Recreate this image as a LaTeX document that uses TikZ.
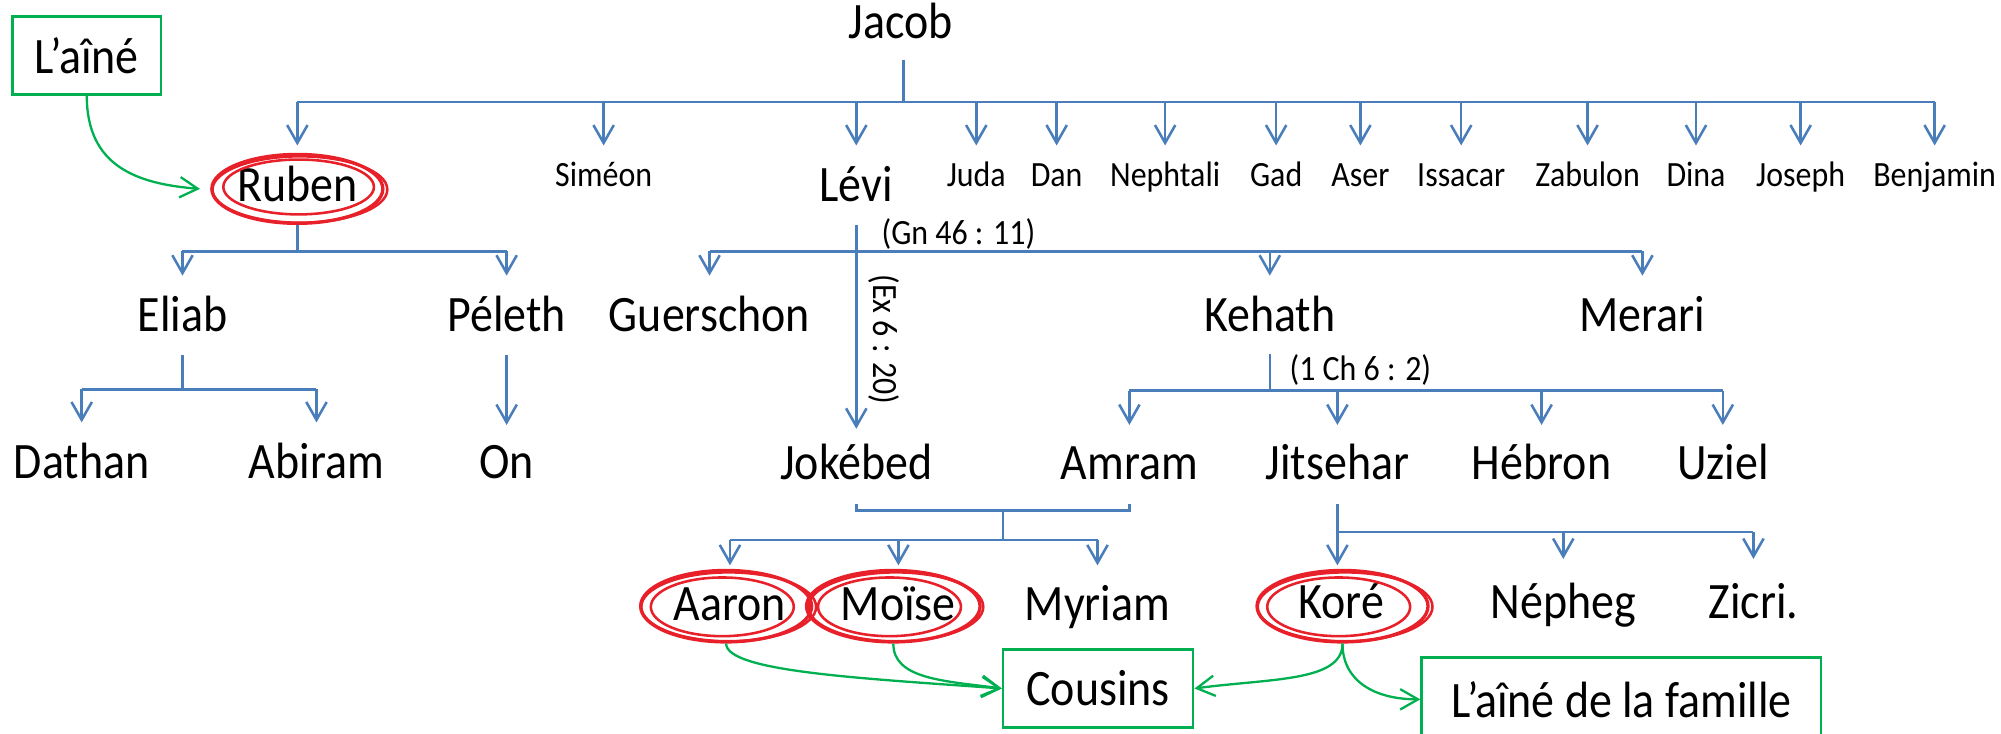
\documentclass[tikz,border=0pt]{standalone}
\usepackage{fontspec}
\setmainfont{Carlito}[FakeStretch=0.9]
\usetikzlibrary{arrows.meta,shapes.geometric,calc}
\definecolor{lineblue}{HTML}{4A7EBB}
\definecolor{ringred}{HTML}{E8202A}
\definecolor{boxgreen}{HTML}{00B050}
\begin{document}
\begin{tikzpicture}[x=0.5pt,y=-0.5pt,
  big/.style={font=\fontsize{20}{22}\selectfont, anchor=base, inner sep=0pt},
  small/.style={font=\fontsize{13.9}{15}\selectfont, anchor=base, inner sep=0pt},
  refnote/.style={font=\fontsize{13.9}{15}\selectfont, inner sep=0pt},
  link/.style={draw=lineblue, line width=1pt},
  arr/.style={link, -{Straight Barb[length=7pt,width=8pt]}},
  garr/.style={draw=boxgreen, line width=0.9pt, -{Straight Barb[length=7pt,width=8pt]}},
  gbox/.style={draw=boxgreen, line width=1pt, inner sep=0pt, font=\fontsize{20}{22}\selectfont},
  ring/.style={ellipse, draw=ringred, line width=1.3pt, inner sep=0pt, minimum width=67pt, minimum height=28pt},
  ringx/.style={ellipse, draw=ringred, line width=1pt, inner sep=0pt, minimum width=68.5pt, minimum height=27pt},
  ringin/.style={ellipse, draw=ringred, line width=1pt, inner sep=0pt, minimum width=56pt, minimum height=23pt}
]
\clip (0,0) rectangle (1568,574.4);
\useasboundingbox (0,0) rectangle (1568,574.4);

% ---------- level coordinates ----------
\coordinate (jstemtop) at (708,47);
\coordinate (busJ) at (708,80);
\coordinate (tipJ) at (0,114);
\coordinate (busR) at (0,197);
\coordinate (tipR) at (0,216);
\coordinate (levistem) at (671,176);
\coordinate (estem) at (143,278);
\coordinate (pstem) at (397,278);
\coordinate (busE) at (0,305);
\coordinate (tipE) at (0,331);
\coordinate (tipP) at (0,333);
\coordinate (kstem) at (995,277);
\coordinate (busK) at (0,306);
\coordinate (tipK) at (0,333);
\coordinate (tipJk) at (0,336);
\coordinate (brtop) at (0,395);
\coordinate (brbar) at (0,400);
\coordinate (mstembot) at (786,423);
\coordinate (busA) at (0,423);
\coordinate (tipA) at (0,443);
\coordinate (jistem) at (1048,395);
\coordinate (busJi) at (1048,417);
\coordinate (tipN) at (0,438);

% ---------- boxes ----------
\node[gbox, minimum width=58pt, minimum height=30.5pt] (laine) at (68,43.5) {L’aîné};
\node[gbox, minimum width=74.5pt, minimum height=30.5pt] (cousins) at (860.5,539.5) {Cousins};
\node[gbox, minimum width=156.5pt, minimum height=33pt] (famille) at (1270.5,548) {L’aîné de la famille};

% ---------- names ----------
\node[big] (jacob) at (706,30) {Jacob};

\node[big] (ruben) at (233,158) {Ruben};
\node[small] (simeon) at (473,146) {Siméon};
\node[big] (levi) at (671,158) {Lévi};
\node[small] (juda) at (765,146) {Juda};
\node[small] (dan) at (828,146) {Dan};
\node[small] (nephtali) at (913,146) {Nephtali};
\node[small] (gad) at (1000,146) {Gad};
\node[small] (aser) at (1066,146) {Aser};
\node[small] (issacar) at (1145,146) {Issacar};
\node[small] (zabulon) at (1244,146) {Zabulon};
\node[small] (dina) at (1329,146) {Dina};
\node[small] (joseph) at (1411,146) {Joseph};
\node[small] (benjamin) at (1516,146) {Benjamin};

\node[big] (eliab) at (143,260) {Eliab};
\node[big] (peleth) at (397,260) {Péleth};
\node[big] (guerschon) at (556,260) {Guerschon};
\node[big] (kehath) at (995,260) {Kehath};
\node[big] (merari) at (1287,260) {Merari};

\node[big] (dathan) at (64,375) {Dathan};
\node[big] (abiram) at (248,375) {Abiram};
\node[big] (on) at (397,375) {On};
\node[big] (jokebed) at (671,376) {Jokébed};
\node[big] (amram) at (885,376) {Amram};
\node[big] (jitsehar) at (1048,376) {Jitsehar};
\node[big] (hebron) at (1208,376) {Hébron};
\node[big] (uziel) at (1350,376) {Uziel};

\node[big] (aaron) at (572,486) {Aaron};
\node[big] (moise) at (704,486) {Moïse};
\node[big] (myriam) at (860,486) {Myriam};
\node[big] (kore) at (1051,485) {Koré};
\node[big] (nepheg) at (1225,485) {Népheg};
\node[big] (zicri) at (1374,485) {Zicri.};

% ---------- red rings ----------
\node[ring, minimum height=27pt] (rubenring) at (233,148) {};
\node[ringx, minimum height=26pt] (rubenx) at (235,148.5) {};
\node[ringin, minimum width=59pt, minimum height=21.5pt] (rubenin) at (234,146.5) {};
\node[ring] (aaronring) at (569,475) {};
\node[ringx] (aaronx) at (571,475.5) {};
\node[ringin] (aaronin) at (566,475.5) {};
\node[ring, minimum width=68pt] (moisering) at (700,475) {};
\node[ringx] (moisex) at (702,475.5) {};
\node[ringin] (moisein) at (697,475.5) {};
\node[ring] (korering) at (1052,475) {};
\node[ringx] (korex) at (1054,475.5) {};
\node[ringin] (korein) at (1049,475.5) {};

% ---------- references ----------
\node[refnote] (gn) at (751,183) {(Gn 46 : 11)};
\node[refnote, rotate=-90] (ex) at (693,266) {(Ex 6 : 20)};
\node[refnote] (ch) at (1066,290) {(1 Ch 6 : 2)};

% ---------- Jacob's children ----------
\draw[link] (jstemtop) -- (busJ);
\draw[link] (ruben |- busJ) -- (benjamin |- busJ);
\foreach \c in {ruben,simeon,levi,juda,dan,nephtali,gad,aser,issacar,zabulon,dina,joseph,benjamin}
  \draw[arr] (\c |- busJ) -- (\c |- tipJ);

% ---------- Ruben ----------
\draw[link] (rubenring.south) -- (ruben |- busR);
\draw[link] (eliab |- busR) -- (peleth |- busR);
\draw[arr] (eliab |- busR) -- (eliab |- tipR);
\draw[arr] (peleth |- busR) -- (peleth |- tipR);

\draw[link] (estem) -- (eliab |- busE);
\draw[link] (dathan |- busE) -- (abiram |- busE);
\draw[arr] (dathan |- busE) -- (dathan |- tipE);
\draw[arr] (abiram |- busE) -- (abiram |- tipE);
\draw[arr] (pstem) -- (on |- tipP);

% ---------- Levi ----------
\draw[arr] (levistem) -- (jokebed |- tipJk);
\draw[link] (guerschon |- busR) -- (merari |- busR);
\draw[arr] (guerschon |- busR) -- (guerschon |- tipR);
\draw[arr] (kehath |- busR) -- (kehath |- tipR);
\draw[arr] (merari |- busR) -- (merari |- tipR);

% ---------- Kehath ----------
\draw[link] (kstem) -- (kehath |- busK);
\draw[link] (amram |- busK) -- (uziel |- busK);
\foreach \c in {amram,jitsehar,hebron,uziel}
  \draw[arr] (\c |- busK) -- (\c |- tipK);

% ---------- Amram & Jokebed ----------
\draw[link] (jokebed |- brtop) -- (jokebed |- brbar) -- (amram |- brbar) -- (amram |- brtop);
\draw[link] (mstembot |- brbar) -- (mstembot);
\draw[link] (aaron |- busA) -- (myriam |- busA);
\foreach \c in {aaron,moise,myriam}
  \draw[arr] (\c |- busA) -- (\c |- tipA);

% ---------- Jitsehar ----------
\draw[link] (jistem) -- (busJi);
\draw[link] (busJi) -- (zicri |- busJi);
\draw[arr] (busJi) -- (busJi |- tipA);
\draw[arr] (nepheg |- busJi) -- (nepheg |- tipN);
\draw[arr] (zicri |- busJi) -- (zicri |- tipN);

% ---------- green links ----------
\draw[garr] (laine.south) .. controls +(0,55) and +(-50,-4) .. ([xshift=-4pt]rubenring.west);
\draw[garr] (aaronring.south) .. controls +(0,22) and +(-110,-8) .. (cousins.west);
\draw[garr] (moisering.south) .. controls +(0,28) and +(-45,-6) .. (cousins.west);
\draw[garr] (korering.south) .. controls +(0,30) and +(60,-8) .. (cousins.east);
\draw[garr] (korering.south) .. controls +(0,30) and +(-35,0) .. (famille.west);
\end{tikzpicture}
\end{document}
